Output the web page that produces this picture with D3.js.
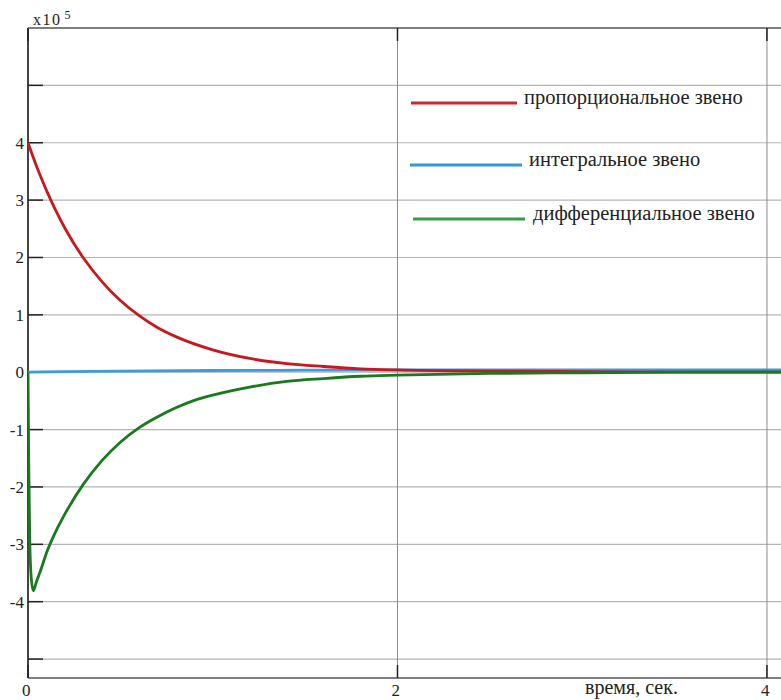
<!DOCTYPE html>
<html>
<head>
<meta charset="utf-8">
<script src="https://cdn.jsdelivr.net/npm/d3@7"></script>
<style>
  html, body { margin: 0; padding: 0; background: #fff; }
  svg { display: block; }
  svg text { font-family: "Liberation Serif", "DejaVu Serif", "Times New Roman", serif; }
</style>
</head>
<body>
<svg id="chart" width="781" height="700"></svg>
<script>
// ─── Data (values in units of 10^5) ─────────────────────────────
const propT = [0, 0.05, 0.1, 0.15, 0.2, 0.3, 0.4, 0.5, 0.6, 0.7, 0.8, 1.0, 1.2, 1.4, 1.6, 1.8, 2.0, 2.5, 3.0, 3.5, 4.1];
const propV = [4.0, 3.56, 3.17, 2.82, 2.51, 1.99, 1.58, 1.25, 0.99, 0.78, 0.62, 0.39, 0.24, 0.15, 0.1, 0.06, 0.04, 0.02, 0.01, 0.0, 0.0];

const intT = [0, 0.2, 0.5, 1.0, 1.5, 2.0, 3.0, 4.1];
const intV = [0, 0.01, 0.02, 0.03, 0.035, 0.04, 0.04, 0.04];

const diffT = [0, 0.004, 0.01, 0.018, 0.029, 0.045, 0.07, 0.1, 0.15, 0.2, 0.3, 0.4, 0.5, 0.6, 0.7, 0.8, 0.9, 1.0, 1.2, 1.4, 1.6, 1.8, 2.0, 2.5, 3.0, 3.5, 4.1];
const diffV = [0, -1.6, -3.0, -3.6, -3.81, -3.66, -3.44, -3.15, -2.78, -2.47, -1.95, -1.54, -1.22, -0.97, -0.78, -0.62, -0.49, -0.4, -0.26, -0.16, -0.11, -0.07, -0.05, -0.02, -0.01, 0, 0];

const yTicks = [-5, -4, -3, -2, -1, 0, 1, 2, 3, 4, 5];
const yLabels = [-4, -3, -2, -1, 0, 1, 2, 3, 4];
const xTicks = [0, 2, 4];

const seriesNames = ["пропорциональное звено", "интегральное звено", "дифференциальное звено"];
const curveColors = ["#c8181f", "#3a9be0", "#18791d"];
const legendColors = ["#d0262e", "#2f9bd6", "#2e9e4a"];

// ─── Scales ─────────────────────────────────────────────────────
const plotL = 28, plotT = 28, plotR = 781, plotB = 678;
const x = d3.scaleLinear().domain([0, 4.076]).range([plotL, plotR]);
const y = d3.scaleLinear().domain([-5.33, 6]).range([plotB, plotT]);

const svg = d3.select("#chart");
const serif = '"Liberation Serif", "DejaVu Serif", serif';

svg.append("defs").append("clipPath").attr("id", "plot")
  .append("rect").attr("x", plotL).attr("y", plotT)
  .attr("width", plotR - plotL).attr("height", plotB - plotT);

// ─── Grid ───────────────────────────────────────────────────────
svg.append("g").selectAll("line").data(yTicks).join("line")
  .attr("x1", plotL).attr("x2", plotR)
  .attr("y1", (d) => y(d)).attr("y2", (d) => y(d))
  .attr("stroke", "#b4b4b4").attr("stroke-width", 1.2);

svg.append("g").selectAll("line").data(xTicks.filter((d) => d > 0)).join("line")
  .attr("x1", (d) => x(d)).attr("x2", (d) => x(d))
  .attr("y1", plotT).attr("y2", plotB)
  .attr("stroke", "#8a8a8a").attr("stroke-width", 1);

// ─── Frame ──────────────────────────────────────────────────────
svg.append("line").attr("x1", plotL).attr("x2", plotR).attr("y1", plotT).attr("y2", plotT)
  .attr("stroke", "#555").attr("stroke-width", 1.5);
svg.append("line").attr("x1", plotL).attr("x2", plotR).attr("y1", plotB).attr("y2", plotB)
  .attr("stroke", "#555").attr("stroke-width", 1.5);
svg.append("line").attr("x1", plotL).attr("x2", plotL).attr("y1", plotT).attr("y2", plotB)
  .attr("stroke", "#444").attr("stroke-width", 2);

// ─── Ticks ──────────────────────────────────────────────────────
svg.append("g").selectAll("line").data(yTicks).join("line")
  .attr("x1", plotL).attr("x2", plotL + 15)
  .attr("y1", (d) => y(d)).attr("y2", (d) => y(d))
  .attr("stroke", "#222").attr("stroke-width", 1.5);

svg.append("g").selectAll("line").data(xTicks).join("line")
  .attr("x1", (d) => x(d)).attr("x2", (d) => x(d))
  .attr("y1", plotB).attr("y2", plotB - 13)
  .attr("stroke", "#222").attr("stroke-width", 1.5);

svg.append("g").selectAll("line").data(xTicks).join("line")
  .attr("x1", (d) => x(d)).attr("x2", (d) => x(d))
  .attr("y1", plotT).attr("y2", plotT + 13)
  .attr("stroke", "#222").attr("stroke-width", 1.5);

// ─── Tick labels ────────────────────────────────────────────────
svg.append("g").selectAll("text").data(yLabels).join("text")
  .attr("x", 24).attr("y", (d) => y(d) + 6)
  .attr("text-anchor", "end")
  .attr("font-family", serif).attr("font-size", 17).attr("fill", "#222")
  .text((d) => (d < 0 ? "-" + Math.abs(d) : d));

svg.append("g").selectAll("text").data(xTicks).join("text")
  .attr("x", (d) => x(d) - 6).attr("y", 696)
  .attr("font-family", serif).attr("font-size", 17).attr("fill", "#222")
  .text((d) => d);

svg.append("text").attr("x", 585).attr("y", 694)
  .attr("font-family", serif).attr("font-size", 20).attr("fill", "#222")
  .text("время, сек.");

const mult = svg.append("text").attr("x", 33).attr("y", 25)
  .attr("font-family", serif).attr("font-size", 16).attr("letter-spacing", 1.5)
  .attr("fill", "#222");
mult.append("tspan").text("x10");
mult.append("tspan").attr("dx", 3).attr("dy", -6).attr("font-size", 12).text("5");

// ─── Curves ─────────────────────────────────────────────────────
const line = d3.line().x((d) => x(d[0])).y((d) => y(d[1])).curve(d3.curveMonotoneX);
const series = [
  d3.zip(propT, propV),
  d3.zip(intT, intV),
  d3.zip(diffT, diffV)
];

const curves = svg.append("g").attr("clip-path", "url(#plot)");
// draw blue, then red, then green (green lies on top near zero)
[1, 0, 2].forEach((i) => {
  curves.append("path")
    .datum(series[i])
    .attr("d", line)
    .attr("fill", "none")
    .attr("stroke", curveColors[i])
    .attr("stroke-width", 2.8)
    .attr("stroke-linejoin", "round");
});

// ─── Legend ─────────────────────────────────────────────────────
const legendRows = [
  { x1: 411, x2: 517, ly: 103, tx: 524 },
  { x1: 410, x2: 522, ly: 165, tx: 529 },
  { x1: 413, x2: 525, ly: 219, tx: 533 }
];
const legend = svg.append("g");
legendRows.forEach((r, i) => {
  legend.append("line")
    .attr("x1", r.x1).attr("x2", r.x2).attr("y1", r.ly).attr("y2", r.ly)
    .attr("stroke", legendColors[i]).attr("stroke-width", 3);
  legend.append("text")
    .attr("x", r.tx).attr("y", r.ly + 1)
    .attr("font-family", serif).attr("font-size", 20.5).attr("fill", "#222")
    .text(seriesNames[i]);
});
</script>
</body>
</html>
